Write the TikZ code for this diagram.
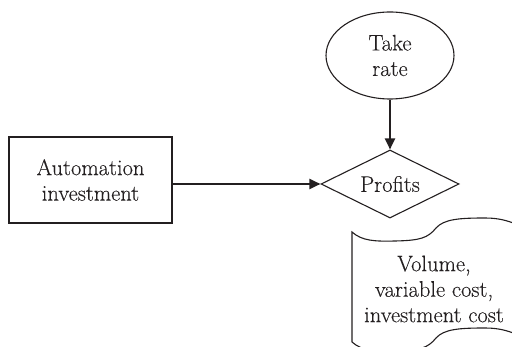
\documentclass[tikz,border=0pt]{standalone}
\usepackage{fontspec}
\setmainfont{Latin Modern Roman}[FakeBold=0.2]
\usetikzlibrary{shapes.geometric,arrows.meta}
\definecolor{ink}{HTML}{231F20}
\begin{document}
\begin{tikzpicture}[x=1pt,y=-1pt,
  every node/.style={text=ink,font=\fontsize{22.5}{25.5}\selectfont,align=center,inner sep=0pt},
  outline/.style={draw=ink,line width=1.1pt},
  flow/.style={draw=ink,line width=2.2pt,-{Triangle[length=11pt,width=10pt]}}]
  \useasboundingbox (0,0) rectangle (512,347);
  \clip (0,0) rectangle (512,347);

  % decision inputs and value node
  \node[outline,minimum width=163pt,minimum height=86pt] (inv) at (90.5,180) {Automation\\investment};
  \node[outline,ellipse,minimum width=128pt,minimum height=87pt] (take) at (390,55.5) {Take\\rate};
  \node[outline,diamond,minimum width=138pt,minimum height=68pt,aspect=2] (prof) at (390,184) {Profits};

  % connectors
  \draw[flow] (take.south) -- (prof.north);
  \draw[flow] (inv.east |- prof.west) -- (prof.west);

  % chance-node data tape
  \draw[outline]
    (352,232) .. controls (362,241) and (375,241.5) .. (395,241)
              .. controls (420,240.5) and (428,238) .. (436,228)
              .. controls (444,219) and (460,218) .. (485,218)
              .. controls (500,218) and (510,221) .. (525,228)
    -- (525,338)
              .. controls (510,331) and (500,328) .. (485,328)
              .. controls (460,328) and (444,329) .. (436,338)
              .. controls (428,348) and (420,350.5) .. (395,351)
              .. controls (375,351.5) and (362,351) .. (352,342)
    -- cycle;
  \node (data) at (434,289) {Volume,\\variable cost,\\investment cost};
\end{tikzpicture}
\end{document}
